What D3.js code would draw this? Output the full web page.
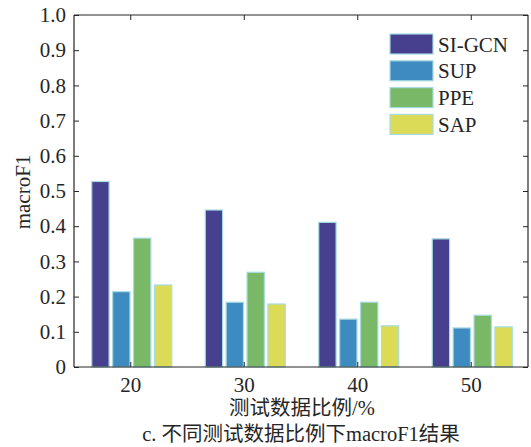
<!DOCTYPE html>
<html><head><meta charset="utf-8">
<script src="https://cdn.jsdelivr.net/npm/d3@7"></script>
<style>body{margin:0;background:#fff}svg{display:block}text{font-family:"Liberation Serif","Times New Roman","Noto Sans CJK SC",serif;fill:#262626}</style>
</head><body>
<script>
const categories = ["20","30","40","50"];
const seriesNames = ["SI-GCN","SUP","PPE","SAP"];
const siGcn = [0.527, 0.446, 0.411, 0.364];
const sup   = [0.214, 0.184, 0.136, 0.111];
const ppe   = [0.366, 0.269, 0.184, 0.147];
const sap   = [0.233, 0.179, 0.117, 0.114];
const colors = ["#46408e","#3d8bc0","#79b866","#dcdb57"];
const yTicks = [0,0.1,0.2,0.3,0.4,0.5,0.6,0.7,0.8,0.9,1.0];
const series = [siGcn, sup, ppe, sap];

(function(){
const W=531,H=447;
const m={l:74,r:3,t:15,b:80};
const FF="'Liberation Serif','Times New Roman','Noto Sans CJK SC',serif";
const svg=d3.select("body").append("svg").attr("width",W).attr("height",H);
const iw=W-m.l-m.r, ih=H-m.t-m.b;
const g=svg.append("g").attr("transform",`translate(${m.l},${m.t})`);
const x=d3.scaleBand().domain(categories).range([0,iw]).padding(0);
const y=d3.scaleLinear().domain([0,1]).range([ih,0]);
const inner=d3.scaleBand().domain(seriesNames).range([0,80]).paddingInner(0.17).paddingOuter(0);

series.forEach((vals,si)=>{
  g.selectAll(null).data(vals).enter().append("rect")
   .attr("x",(d,i)=>x(categories[i])+x.bandwidth()/2-39+inner(seriesNames[si]))
   .attr("y",d=>y(d)).attr("width",inner.bandwidth()).attr("height",d=>ih-y(d))
   .attr("fill",colors[si]).attr("stroke","#a6dcdf").attr("stroke-width",1.2);
});

const ax="#262626";
const aLeft=g.append("g").call(d3.axisLeft(y).tickValues(yTicks).tickSize(-5).tickPadding(8).tickFormat(d=>d===0?"0":d3.format(".1f")(d)));
const aRight=g.append("g").attr("transform",`translate(${iw},0)`).call(d3.axisRight(y).tickValues(yTicks).tickSize(-5).tickFormat(""));
const aBottom=g.append("g").attr("transform",`translate(0,${ih})`).call(d3.axisBottom(x).tickSize(-5).tickPadding(10));
const aTop=g.append("g").call(d3.axisTop(x).tickSize(-5).tickFormat(""));
[aLeft,aRight,aBottom,aTop].forEach(a=>{
  a.attr("font-family",FF);
  a.select(".domain").attr("stroke",ax).attr("stroke-width",1.2);
  a.selectAll(".tick line").attr("stroke",ax);
  a.selectAll("text").attr("font-size",21).attr("fill",ax).style("font-family",FF);
});
aLeft.select(".domain").attr("d",`M0,0V${ih}`);
aRight.select(".domain").attr("d",`M0,0V${ih}`);
aTop.select(".domain").attr("d",`M0,0H${iw}`);
aBottom.select(".domain").attr("d",`M0,0H${iw}`);

svg.append("text").attr("transform",`translate(30,192) rotate(-90)`).attr("text-anchor","middle")
  .attr("font-size",21).text("macroF1");
svg.append("text").attr("x",302).attr("y",415).attr("text-anchor","middle").attr("font-size",20.5).text("测试数据比例/%");
svg.append("text").attr("x",301).attr("y",441).attr("text-anchor","middle").attr("font-size",20.5).text("c. 不同测试数据比例下macroF1结果");

const lg=svg.append("g").attr("transform","translate(390,34)");
seriesNames.forEach((n,i)=>{
  const row=lg.append("g").attr("transform",`translate(0,${i*26.8})`);
  row.append("rect").attr("width",43).attr("height",20).attr("fill",colors[i]).attr("stroke","#a6dcdf").attr("stroke-width",1.2);
  row.append("text").attr("x",48).attr("y",17.5).attr("font-size",21).text(n);
});
})();
</script>
</body></html>
